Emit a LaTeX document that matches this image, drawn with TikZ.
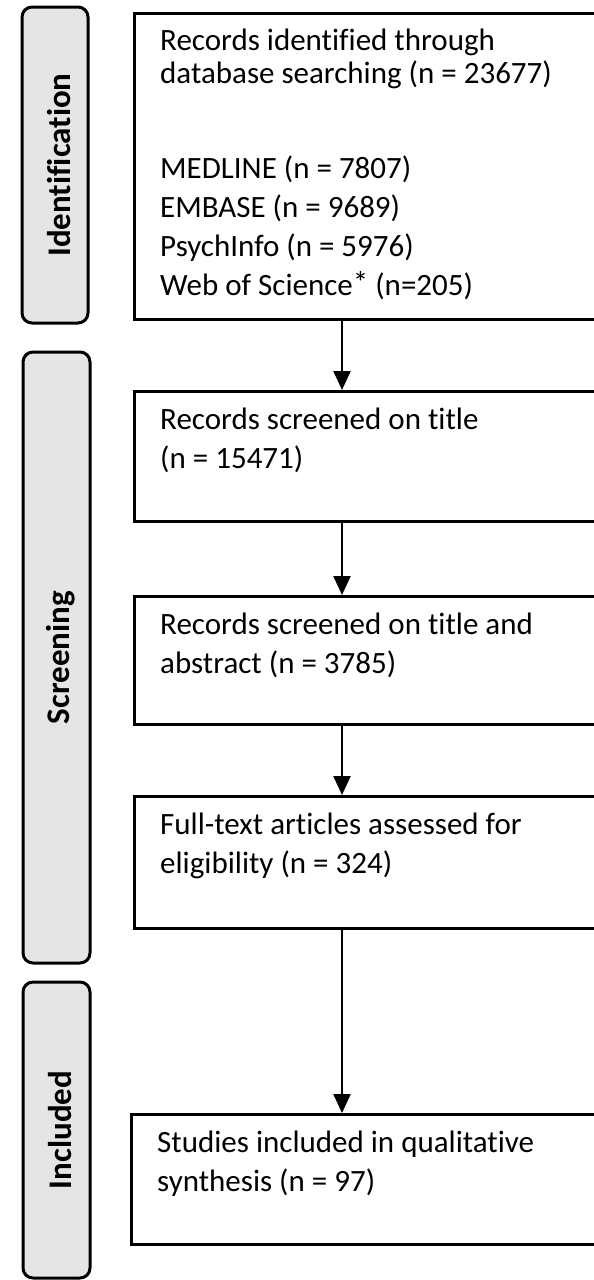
\documentclass[tikz,border=0pt]{standalone}
\usepackage{fontspec}
\setmainfont{Carlito}[Ligatures=CommonOff]
\usetikzlibrary{arrows.meta}
\tikzset{
  box/.style={draw, line width=3pt, minimum width=480pt, anchor=north west, inner sep=0pt},
  txt/.style={anchor=north west, align=left, inner sep=0pt, font=\fontsize{31}{39}\selectfont},
  phase/.style={draw, line width=3pt, fill=black!10, rounded corners=10pt, rotate=90,
    inner sep=0pt, text height=31pt, font=\bfseries\fontsize{33}{36}\selectfont},
  arr/.style={line width=2.2pt, -{Triangle[width=17pt,length=19pt]}}
}
\begin{document}
\begin{tikzpicture}[x=1pt, y=-1pt]
  \useasboundingbox (0,0) rectangle (594,1280);
  \clip (0,0) rectangle (594,1280);
  \coordinate (spine) at (342,0);
  % phases
  \node[phase, minimum width=316pt, minimum height=66pt] (ident) at (55,165) {Identification};
  \node[phase, minimum width=611pt, minimum height=67pt] (screen) at (56.5,657.5) {Screening};
  \node[phase, minimum width=296pt, minimum height=67pt] (incl) at (56.5,1130) {Included};
  % boxes
  \node[box, minimum height=306pt] (search) at (133,12) {};
  \node[box, minimum height=130pt] (title) at (133,390) {};
  \node[box, minimum height=128pt] (abstract) at (133,595) {};
  \node[box, minimum height=132pt] (fulltext) at (133,795) {};
  \node[box, minimum height=130pt] (synth) at (130,1113) {};
  % texts
  \node[txt] (searchtxt) at ([shift={(27,17)}]search.north west)
    {Records identified through\\[-6pt]database searching (n = 23677)\\[56pt]MEDLINE (n = 7807)\\EMBASE (n = 9689)\\PsychInfo (n = 5976)\\Web of Science\raisebox{.12ex}{*} (n=205)};
  \node[txt] (titletxt) at ([shift={(27,18)}]title.north west)
    {Records screened on title\\(n = 15471)};
  \node[txt] (abstracttxt) at ([shift={(27,18)}]abstract.north west)
    {Records screened on title and\\abstract (n = 3785)};
  \node[txt] (fulltexttxt) at ([shift={(27,18)}]fulltext.north west)
    {Full-text articles assessed for\\eligibility (n = 324)};
  \node[txt] (synthtxt) at ([shift={(27,18)}]synth.north west)
    {Studies included in qualitative\\synthesis (n = 97)};
  % arrows
  \draw[arr] (search.south -| spine) -- (title.north -| spine);
  \draw[arr] (title.south -| spine) -- (abstract.north -| spine);
  \draw[arr] (abstract.south -| spine) -- (fulltext.north -| spine);
  \draw[arr] (fulltext.south -| spine) -- (synth.north -| spine);
\end{tikzpicture}
\end{document}
